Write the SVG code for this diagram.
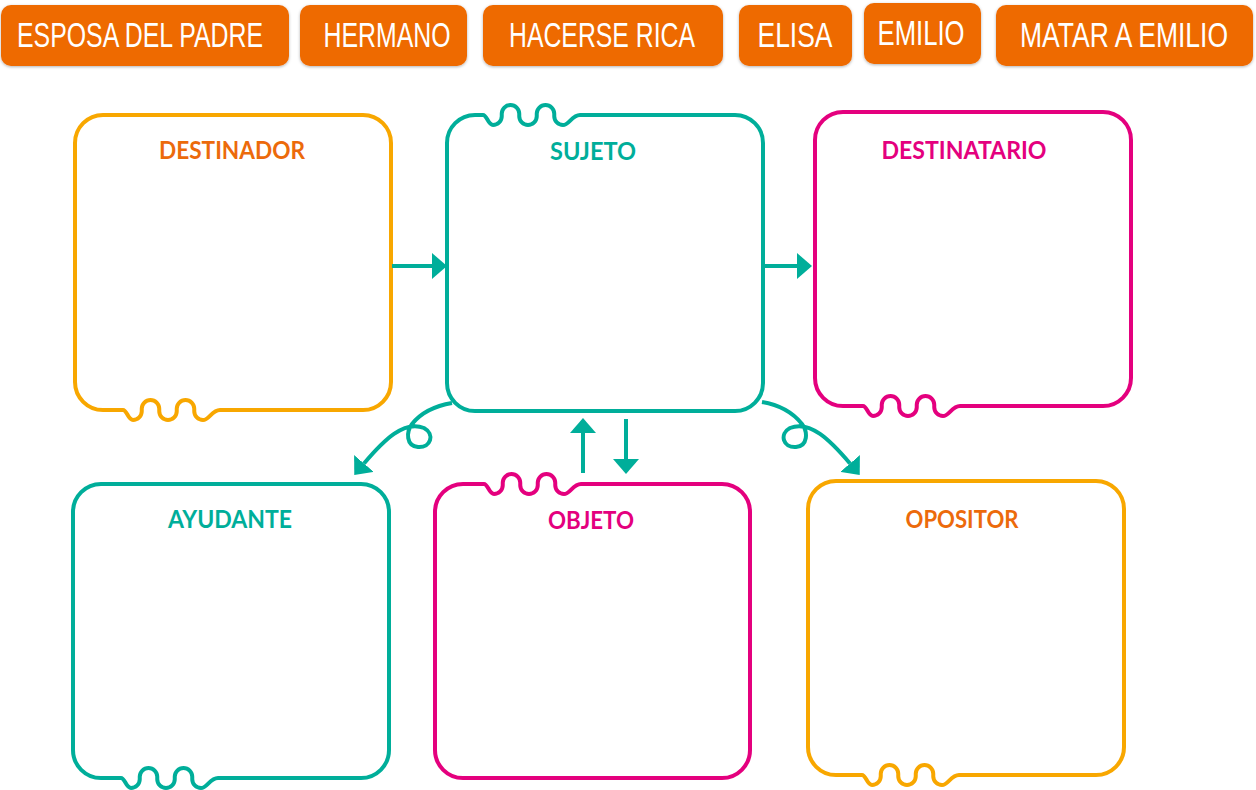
<svg xmlns="http://www.w3.org/2000/svg" width="1256" height="790" viewBox="0 0 1256 790">
  <defs>
    <style>
      .box { fill: none; stroke-width: 4; stroke-linejoin: round; }
      .teal { stroke: #00AE9A; }
      .orange { stroke: #F8A700; }
      .pink { stroke: #E4007E; }
      .title { font-family: Lato, "Open Sans", sans-serif; font-weight: bold; font-size: 24px; text-anchor: middle; }
      .btn rect { fill: #EE6A05; filter: url(#sh); }
      .btn text { fill: #FFFFFF; font-family: "Liberation Sans", Arial, sans-serif; font-size: 24.5px; text-anchor: middle; }
      .conn { fill: none; stroke: #00AE9A; stroke-width: 4; }
    </style>
    <filter id="sh" x="-10%" y="-20%" width="120%" height="150%">
      <feDropShadow dx="0" dy="1" stdDeviation="1.5" flood-color="#000" flood-opacity="0.3"/>
    </filter>
    <marker id="ah" markerUnits="userSpaceOnUse" viewBox="0 -13 15 26" markerWidth="15" markerHeight="26" refX="0" refY="0" orient="auto">
      <path d="M0,-13 L15,0 L0,13 Z" fill="#00AE9A"/>
    </marker>
  </defs>
  <rect x="0" y="0" width="1256" height="790" fill="#FFFFFF"/>

  <g id="btn-esposa" class="btn"><rect x="1" y="5" width="288" height="61" rx="10"/><text transform="translate(140,47) scale(1,1.42)" x="0" y="0" textLength="246" lengthAdjust="spacingAndGlyphs">ESPOSA DEL PADRE</text></g>
  <g id="btn-hermano" class="btn"><rect x="300" y="5" width="167" height="61" rx="10"/><text transform="translate(387,47) scale(1,1.42)" x="0" y="0" textLength="127" lengthAdjust="spacingAndGlyphs">HERMANO</text></g>
  <g id="btn-hacerse" class="btn"><rect x="483" y="5" width="240" height="61" rx="10"/><text transform="translate(602,47) scale(1,1.42)" x="0" y="0" textLength="186" lengthAdjust="spacingAndGlyphs">HACERSE RICA</text></g>
  <g id="btn-elisa" class="btn"><rect x="739" y="5" width="113" height="61" rx="10"/><text transform="translate(795,47) scale(1,1.42)" x="0" y="0" textLength="75" lengthAdjust="spacingAndGlyphs">ELISA</text></g>
  <g id="btn-emilio" class="btn"><rect x="864" y="3" width="117" height="61" rx="10"/><text transform="translate(921,45) scale(1,1.42)" x="0" y="0" textLength="87" lengthAdjust="spacingAndGlyphs">EMILIO</text></g>
  <g id="btn-matar" class="btn"><rect x="996" y="5" width="257" height="61" rx="10"/><text transform="translate(1124,47) scale(1,1.42)" x="0" y="0" textLength="208" lengthAdjust="spacingAndGlyphs">MATAR A EMILIO</text></g>

  <g id="destinador">
    <path class="box orange" d="M103,410 H123 c 4,0 5,10 10,10 a 8.75,8.75 0 0 0 8.75,-8.75 v -2.5 a 8.75,8.75 0 0 1 17.5,0 v 2.5 a 8.75,8.75 0 0 0 17.5,0 v -2.5 a 8.75,8.75 0 0 1 17.5,0 v 2.5 a 8.75,8.75 0 0 0 8.75,8.75 c 6,0 9,-10 17,-10 H363 A28,28 0 0 0 391,382 V143 A28,28 0 0 0 363,115 H103 A28,28 0 0 0 75,143 V382 A28,28 0 0 0 103,410 Z"/>
    <text class="title" x="232" y="159" fill="#EC6A0B" textLength="146" lengthAdjust="spacingAndGlyphs">DESTINADOR</text>
  </g>
  <g id="sujeto">
    <path class="box teal" d="M475,115 H483 c 4,0 5,10 10,10 a 8.75,8.75 0 0 0 8.75,-8.75 v -2.5 a 8.75,8.75 0 0 1 17.5,0 v 2.5 a 8.75,8.75 0 0 0 17.5,0 v -2.5 a 8.75,8.75 0 0 1 17.5,0 v 2.5 a 8.75,8.75 0 0 0 8.75,8.75 c 6,0 9,-10 17,-10 H735 A28,28 0 0 1 763,143 V383 A28,28 0 0 1 735,411 H475 A28,28 0 0 1 447,383 V143 A28,28 0 0 1 475,115 Z"/>
    <text class="title" x="593" y="160" fill="#00AE9A" textLength="86" lengthAdjust="spacingAndGlyphs">SUJETO</text>
  </g>
  <g id="destinatario">
    <path class="box pink" d="M843,406 H863 c 4,0 5,10 10,10 a 8.75,8.75 0 0 0 8.75,-8.75 v -2.5 a 8.75,8.75 0 0 1 17.5,0 v 2.5 a 8.75,8.75 0 0 0 17.5,0 v -2.5 a 8.75,8.75 0 0 1 17.5,0 v 2.5 a 8.75,8.75 0 0 0 8.75,8.75 c 6,0 9,-10 17,-10 H1103 A28,28 0 0 0 1131,378 V140 A28,28 0 0 0 1103,112 H843 A28,28 0 0 0 815,140 V378 A28,28 0 0 0 843,406 Z"/>
    <text class="title" x="964" y="159" fill="#E4007E" textLength="165" lengthAdjust="spacingAndGlyphs">DESTINATARIO</text>
  </g>
  <g id="ayudante">
    <path class="box teal" d="M101,778 H121 c 4,0 5,10 10,10 a 8.75,8.75 0 0 0 8.75,-8.75 v -2.5 a 8.75,8.75 0 0 1 17.5,0 v 2.5 a 8.75,8.75 0 0 0 17.5,0 v -2.5 a 8.75,8.75 0 0 1 17.5,0 v 2.5 a 8.75,8.75 0 0 0 8.75,8.75 c 6,0 9,-10 17,-10 H361 A28,28 0 0 0 389,750 V512 A28,28 0 0 0 361,484 H101 A28,28 0 0 0 73,512 V750 A28,28 0 0 0 101,778 Z"/>
    <text class="title" x="230" y="528" fill="#00AE9A" textLength="124" lengthAdjust="spacingAndGlyphs">AYUDANTE</text>
  </g>
  <g id="objeto">
    <path class="box pink" d="M463,484 H484 c 4,0 5,10 10,10 a 8.75,8.75 0 0 0 8.75,-8.75 v -2.5 a 8.75,8.75 0 0 1 17.5,0 v 2.5 a 8.75,8.75 0 0 0 17.5,0 v -2.5 a 8.75,8.75 0 0 1 17.5,0 v 2.5 a 8.75,8.75 0 0 0 8.75,8.75 c 6,0 9,-10 17,-10 H722 A28,28 0 0 1 750,512 V750 A28,28 0 0 1 722,778 H463 A28,28 0 0 1 435,750 V512 A28,28 0 0 1 463,484 Z"/>
    <text class="title" x="591" y="529" fill="#E4007E" textLength="86" lengthAdjust="spacingAndGlyphs">OBJETO</text>
  </g>
  <g id="opositor">
    <path class="box orange" d="M836,775 H862 c 4,0 5,10 10,10 a 8.75,8.75 0 0 0 8.75,-8.75 v -2.5 a 8.75,8.75 0 0 1 17.5,0 v 2.5 a 8.75,8.75 0 0 0 17.5,0 v -2.5 a 8.75,8.75 0 0 1 17.5,0 v 2.5 a 8.75,8.75 0 0 0 8.75,8.75 c 6,0 9,-10 17,-10 H1096 A28,28 0 0 0 1124,747 V509 A28,28 0 0 0 1096,481 H836 A28,28 0 0 0 808,509 V747 A28,28 0 0 0 836,775 Z"/>
    <text class="title" x="962" y="528" fill="#EC6A0B" textLength="113" lengthAdjust="spacingAndGlyphs">OPOSITOR</text>
  </g>

  <g id="connectors">
    <line class="conn" x1="392" y1="266" x2="432" y2="266" marker-end="url(#ah)"/>
    <line class="conn" x1="763" y1="266" x2="797" y2="266" marker-end="url(#ah)"/>
    <line class="conn" x1="583" y1="473" x2="583" y2="433" marker-end="url(#ah)"/>
    <line class="conn" x1="626" y1="419" x2="626" y2="459" marker-end="url(#ah)"/>
    <path class="conn" d="M452,403 C434,406 420,414 412,424 C406,432 406,446 418,447 C431,448 435,434 424,428 C404,420 384,440 364,463.5" marker-end="url(#ah)"/>
    <path class="conn" d="M762,402 C780,405 794,414 802,424 C808,432 808,446 796,447 C783,448 779,434 790,428 C810,420 830,440 850,463.5" marker-end="url(#ah)"/>
  </g>
</svg>
